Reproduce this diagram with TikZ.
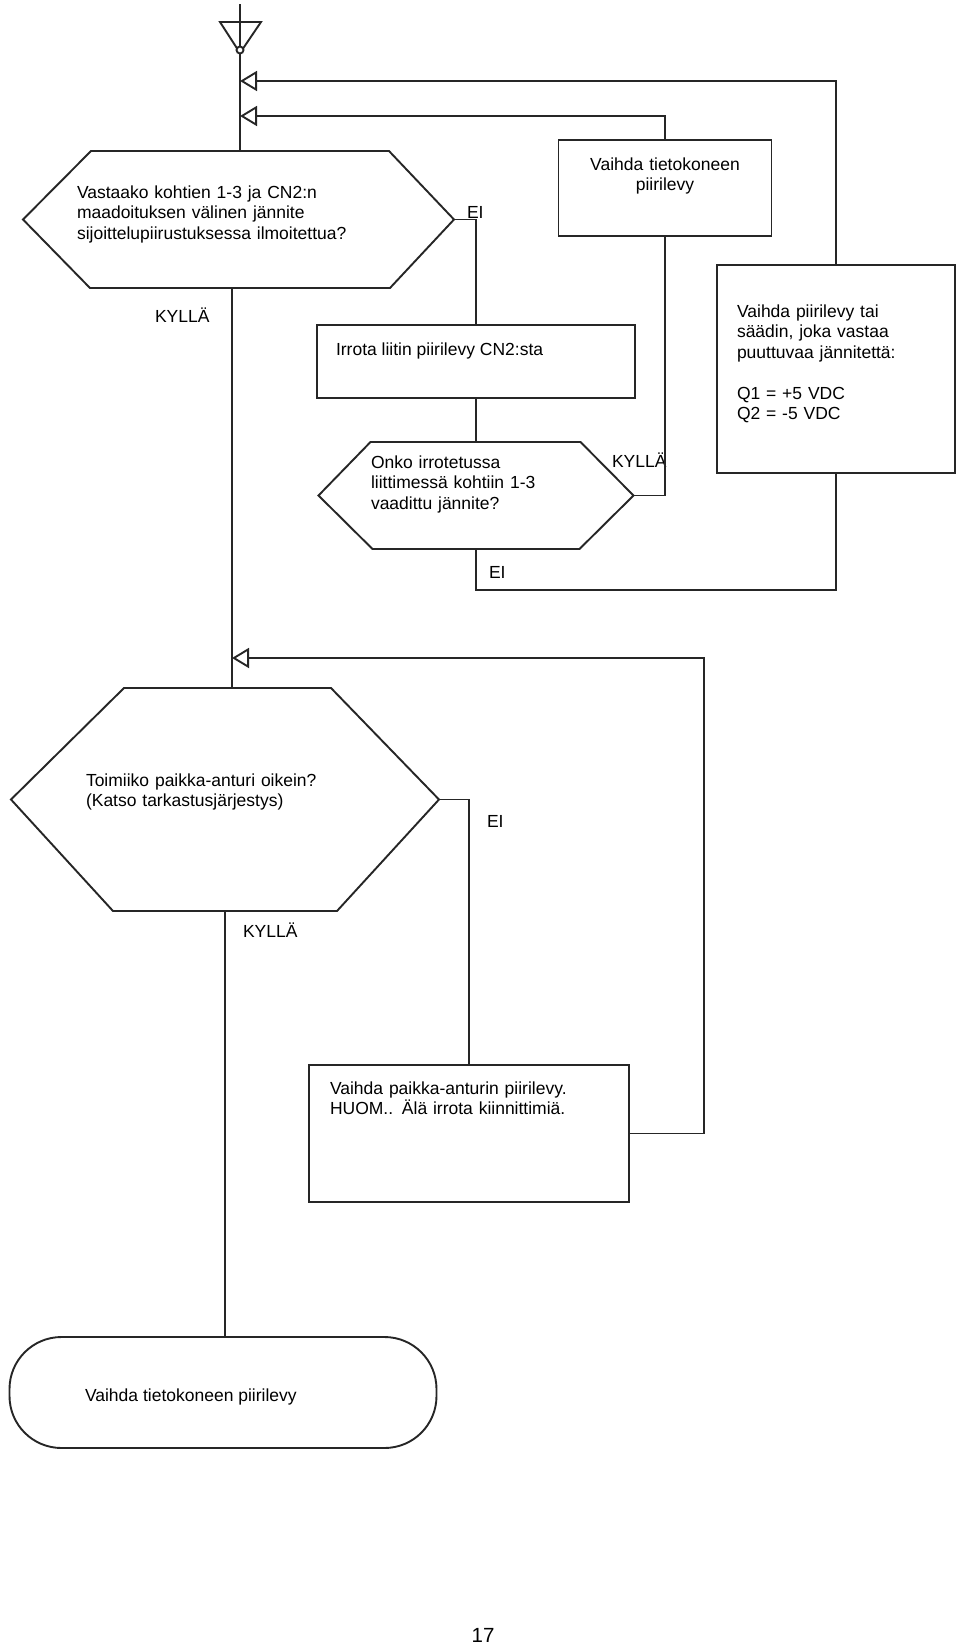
\documentclass[tikz,border=0pt]{standalone}
\usepackage{fontspec}
\setmainfont{Liberation Sans}
\usetikzlibrary{arrows.meta}
\begin{document}
\begin{tikzpicture}[x=1pt,y=-1pt,
  ln/.style={line width=1.9pt, draw=black!85},
  shapebox/.style={inner sep=0pt, outer sep=0pt},
  boxnode/.style={shapebox, ln},
  txt/.style={inner sep=0pt, outer sep=0pt, font=\fontsize{17.5}{20.5}\selectfont, text=black},
  lbl/.style={txt, anchor=base west},
  textblock/.style={txt, anchor=base west, align=left, text width=#1},
  openarr/.style={-{Triangle[open,length=17pt,width=20pt]}}
]
\fill[white] (0,0) rectangle (960,1644);
\useasboundingbox (0,0) rectangle (960,1644);

% ---- shapes ----
\node[shapebox, minimum width=431pt, minimum height=137pt] (h1) at (238.5,219.5) {};
\draw[ln] (h1.west) -- ([xshift=68pt]h1.north west) -- ([xshift=-65pt]h1.north east) -- (h1.east)
  -- ([xshift=-64pt]h1.south east) -- ([xshift=67pt]h1.south west) -- cycle;
\node[textblock=320pt] (t1) at (77,198) {Vastaako kohtien 1-3 ja CN2:n\\maadoituksen välinen jännite\\sijoittelupiirustuksessa ilmoitettua?};

\node[boxnode, minimum width=213pt, minimum height=96pt] (b1) at (665,188) {};
\node[txt, anchor=base, align=center, text width=213pt] (t2) at (665,170) {Vaihda tietokoneen\\piirilevy};

\node[boxnode, minimum width=318pt, minimum height=73pt] (b2) at (476,361.5) {};
\node[lbl] (t3) at (336,355) {Irrota liitin piirilevy CN2:sta};

\node[shapebox, minimum width=315pt, minimum height=107pt] (h2) at (476,495.5) {};
\draw[ln] (h2.west) -- ([xshift=52pt]h2.north west) -- ([xshift=-53pt]h2.north east) -- (h2.east)
  -- ([xshift=-54pt]h2.south east) -- ([xshift=54pt]h2.south west) -- cycle;
\node[textblock=240pt] (t4) at (371,468) {Onko irrotetussa\\liittimessä kohtiin 1-3\\vaadittu jännite?};

\node[boxnode, minimum width=238pt, minimum height=208pt] (b3) at (836,369) {};
\node[textblock=210pt] (t5) at (737,317) {Vaihda piirilevy tai\\säädin, joka vastaa\\puuttuvaa jännitettä:\\\strut\\Q1 = +5 VDC\\Q2 = -5 VDC};

\node[shapebox, minimum width=428pt, minimum height=223pt] (h3) at (225,799.5) {};
\draw[ln] (h3.west) -- ([xshift=113pt]h3.north west) -- ([xshift=-108pt]h3.north east) -- (h3.east)
  -- ([xshift=-102pt]h3.south east) -- ([xshift=102pt]h3.south west) -- cycle;
\node[textblock=320pt] (t6) at (86,786) {Toimiiko paikka-anturi oikein?\\(Katso tarkastusjärjestys)};

\node[boxnode, minimum width=320pt, minimum height=137pt] (b4) at (469,1133.5) {};
\node[textblock=290pt] (t7) at (330,1094) {Vaihda paikka-anturin piirilevy.\\HUOM.. Älä irrota kiinnittimiä.};

\node[boxnode, rounded corners=52pt, minimum width=427pt, minimum height=111pt] (term) at (223,1392.5) {};
\node[lbl] (t8) at (85,1401) {Vaihda tietokoneen piirilevy};

\node[txt, font=\fontsize{20.5}{24}\selectfont, anchor=base] (pg) at (483,1642) {17};

% ---- labels ----
\node[lbl] (l1) at (467,218) {EI};
\node[lbl] (l2) at (155,322) {KYLLÄ};
\node[lbl] (l3) at (612,467) {KYLLÄ};
\node[lbl] (l4) at (489,578) {EI};
\node[lbl] (l5) at (487,827) {EI};
\node[lbl] (l6) at (243,937) {KYLLÄ};

% ---- coordinates ----
\coordinate (top) at (240,4);
\coordinate (m1) at (240,81);
\coordinate (m2) at (240,116);
\coordinate (m3) at (232,658);

% ---- start symbol ----
\draw[ln] (top) -- (top |- h1.north);
\draw[ln] (220,22) -- (261,22) -- (240,53) -- cycle;
\draw[ln, fill=white] (240,50) circle (3.5pt);

% ---- connectors ----
\draw[ln, openarr] (b3.north) |- (m1);
\draw[ln, openarr] (b1.north) |- (m2);
\draw[ln] (h1.east) -| (b2.north);
\draw[ln] (b2.south) -- (h2.north);
\draw[ln] (h2.east) -| (b1.south);
\draw[ln] (h2.south) -- ++(0,41) -| (b3.south);
\draw[ln] (m3 |- h1.south) -- (m3);
\draw[ln, openarr] (b4.east) -- ++(75,0) |- (m3);
\draw[ln] (m3) -- (m3 |- h3.north);
\draw[ln] (h3.east) -| (b4.north);
\draw[ln] (h3.south) -- (h3.south |- term.north);
\end{tikzpicture}
\end{document}
